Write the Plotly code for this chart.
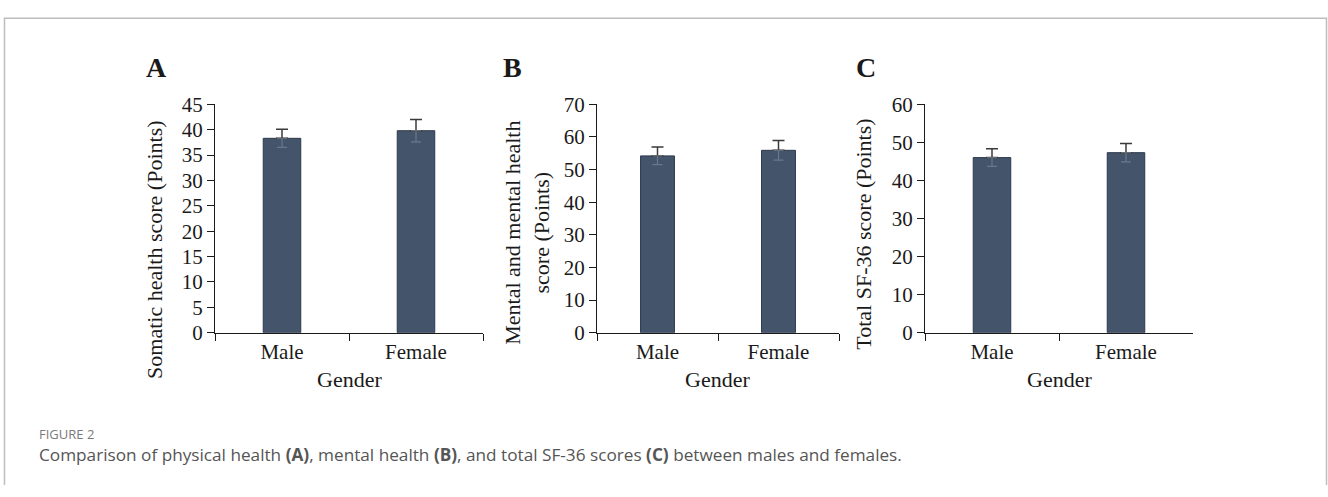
import plotly.graph_objects as go

W, H = 1328, 497

genders = ["Male", "Female"]
somatic_mean = [38.3, 39.8]
somatic_err = [1.8, 2.2]
mental_mean = [54.2, 55.9]
mental_err = [2.7, 3.0]
total_mean = [46.0, 47.3]
total_err = [2.3, 2.4]

y_max = [45, 70, 60]
y_dtick = [5, 10, 10]
panel_letters = ["A", "B", "C"]
y_titles = ["Somatic health score (Points)",
            "Mental and mental health<br>score (Points)",
            "Total SF-36 score (Points)"]
x_title = "Gender"
caption_head = "FIGURE 2"
caption = ("Comparison of physical health <b>(A)</b>, mental health <b>(B)</b>, "
           "and total SF-36 scores <b>(C)</b> between males and females.")

BAR = "#44546A"
SERIF = "Liberation Serif"

x_doms = [(215, 483), (597, 839), (925, 1193)]
y_top, y_bot = 97, 337

def px(x):
    return x / W

def py(y):
    return 1 - y / H

fig = go.Figure()
data = [(somatic_mean, somatic_err), (mental_mean, mental_err), (total_mean, total_err)]
for i, (m, e) in enumerate(data):
    ax = "" if i == 0 else str(i + 1)
    fig.add_trace(go.Bar(
        x=genders, y=m, width=0.28,
        marker=dict(color=BAR, line=dict(color="#2c3a4d", width=1)),
        error_y=dict(type="data", symmetric=False, array=e, arrayminus=[0] * len(e),
                     visible=True, color="#3a3a3a", thickness=1.5, width=6),
        xaxis="x" + ax, yaxis="y" + ax, showlegend=False, hoverinfo="skip"))
    fig.add_trace(go.Scatter(
        x=genders, y=m, mode="markers", marker=dict(size=1, color="rgba(0,0,0,0)"),
        error_y=dict(type="data", symmetric=False, array=[0] * len(e), arrayminus=e,
                     visible=True, color="rgba(140,150,165,0.55)", thickness=1.2, width=5),
        xaxis="x" + ax, yaxis="y" + ax, showlegend=False, hoverinfo="skip"))

layout = dict(
    width=W, height=H, margin=dict(l=0, r=0, t=0, b=0, pad=0),
    paper_bgcolor="white", plot_bgcolor="white",
    font=dict(family=SERIF, size=21, color="#1a1a1a"),
    showlegend=False,
)
annotations = []
for i in range(3):
    ax = "" if i == 0 else str(i + 1)
    x0, x1 = x_doms[i]
    layout["xaxis" + ax] = dict(
        domain=[px(x0), px(x1)], anchor="y" + ax, type="category",
        showline=True, linecolor="#1a1a1a", linewidth=1.2,
        ticks="outside", tickson="boundaries", ticklen=7, tickcolor="#1a1a1a",
        tickfont=dict(family=SERIF, size=21, color="#1a1a1a"),
        showgrid=False, range=[-0.5, 1.5], fixedrange=True)
    layout["yaxis" + ax] = dict(
        domain=[py(y_bot), py(y_top)], anchor="x" + ax,
        range=[0, y_max[i]], dtick=y_dtick[i], tick0=0,
        showline=True, linecolor="#1a1a1a", linewidth=1.2,
        ticks="outside", ticklen=7, tickcolor="#1a1a1a",
        tickfont=dict(family=SERIF, size=21, color="#1a1a1a"),
        showgrid=False, zeroline=False, fixedrange=True)

    annotations.append(dict(text=x_title, x=px((x0 + x1) / 2), y=py(386),
                            xref="paper", yref="paper", showarrow=False,
                            xanchor="center", yanchor="middle",
                            font=dict(family=SERIF, size=22, color="#1a1a1a")))

for letter, cx in zip(panel_letters, [156, 512, 866]):
    annotations.append(dict(text="<b>" + letter + "</b>", x=px(cx), y=py(58),
                            xref="paper", yref="paper", showarrow=False,
                            xanchor="center", yanchor="middle",
                            font=dict(family=SERIF, size=28, color="#1a1a1a")))

for t, cx, cy in zip(y_titles, [155, 527, 864], [250, 232, 234]):
    annotations.append(dict(text=t, x=px(cx), y=py(cy), textangle=-90,
                            xref="paper", yref="paper", showarrow=False,
                            xanchor="center", yanchor="middle",
                            font=dict(family=SERIF, size=22, color="#1a1a1a")))

annotations.append(dict(text=caption_head, x=px(37), y=py(443), xref="paper", yref="paper",
                        showarrow=False, xanchor="left", yanchor="middle",
                        font=dict(family="Open Sans", size=13, color="#7a7a7a")))
annotations.append(dict(text=caption, x=px(37), y=py(465), xref="paper", yref="paper",
                        showarrow=False, xanchor="left", yanchor="middle",
                        font=dict(family="Open Sans", size=17.2, color="#555555")))
layout["annotations"] = annotations

frame = "#bdbdbd"
layout["shapes"] = [
    dict(type="line", xref="paper", yref="paper", x0=px(4), x1=px(1327), y0=py(6.5), y1=py(6.5),
         line=dict(color=frame, width=1.5)),
    dict(type="line", xref="paper", yref="paper", x0=px(4.5), x1=px(4.5), y0=py(6), y1=py(497),
         line=dict(color=frame, width=1.5)),
    dict(type="line", xref="paper", yref="paper", x0=px(1326.5), x1=px(1326.5), y0=py(6), y1=py(497),
         line=dict(color=frame, width=1.5)),
]
fig.update_layout(**layout)
fig.write_html("out.html", config={"displayModeBar": False})
